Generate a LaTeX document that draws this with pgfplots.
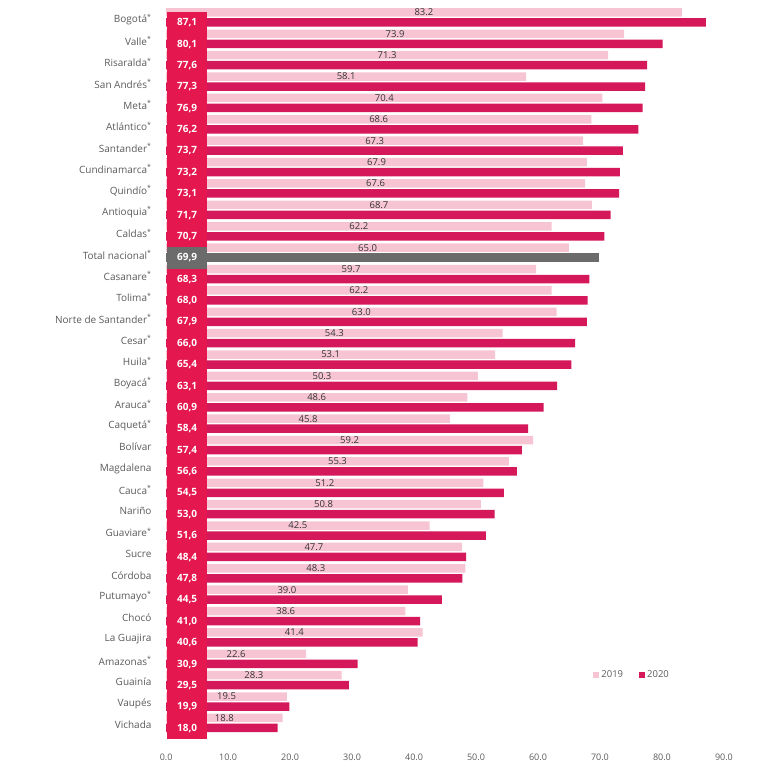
\documentclass[border=0pt]{standalone}
\usepackage{fontspec}
\setmainfont{Open Sans}
\usepackage{pgfplots}
\usepackage{pgfplotstable}
\pgfplotsset{compat=1.18}
\definecolor{c19}{HTML}{F7C4D4}
\definecolor{c20}{HTML}{D4185A}
\definecolor{tile}{HTML}{E5174F}
\definecolor{tot}{HTML}{6B6B6B}
\definecolor{lab}{HTML}{5A5A5A}
\pgfplotstableread{
y v19 v20
33 83.2 87.1
32 73.9 80.1
31 71.3 77.6
30 58.1 77.3
29 70.4 76.9
28 68.6 76.2
27 67.3 73.7
26 67.9 73.2
25 67.6 73.1
24 68.7 71.7
23 62.2 70.7
22 65.0 69.9
21 59.7 68.3
20 62.2 68.0
19 63.0 67.9
18 54.3 66.0
17 53.1 65.4
16 50.3 63.1
15 48.6 60.9
14 45.8 58.4
13 59.2 57.4
12 55.3 56.6
11 51.2 54.5
10 50.8 53.0
9 42.5 51.6
8 47.7 48.4
7 48.3 47.8
6 39.0 44.5
5 38.6 41.0
4 41.4 40.6
3 22.6 30.9
2 28.3 29.5
1 19.5 19.9
0 18.8 18.0
}\data
\begin{document}
\begin{tikzpicture}
\path[use as bounding box] (0,0) rectangle (766pt,-769pt);
\begin{axis}[
  scale only axis, width=608pt, height=739.7pt,
  at={(150pt,-742.2pt)}, anchor=south west,
  xmin=-2.6, xmax=95.5, ymin=-0.9, ymax=33.7,
  axis line style={draw=none}, tick style={draw=none},
  xtick={0,10,...,90},
  /pgf/number format/assume math mode=true,
  xticklabel={\pgfmathprintnumber[fixed,fixed zerofill,precision=1]{\tick}},
  xticklabel style={font=\fontsize{9}{10}\selectfont, text=lab, yshift=-8pt},
  ytick={0,...,33},
  yticklabels={Vichada,Vaupés,Guainía,Amazonas\textsuperscript{*},La Guajira,Chocó,Putumayo\textsuperscript{*},Córdoba,Sucre,Guaviare\textsuperscript{*},Nariño,Cauca\textsuperscript{*},Magdalena,Bolívar,Caquetá\textsuperscript{*},Arauca\textsuperscript{*},Boyacá\textsuperscript{*},Huila\textsuperscript{*},Cesar\textsuperscript{*},Norte de Santander\textsuperscript{*},Tolima\textsuperscript{*},Casanare\textsuperscript{*},Total nacional\textsuperscript{*},Caldas\textsuperscript{*},Antioquia\textsuperscript{*},Quindío\textsuperscript{*},Cundinamarca\textsuperscript{*},Santander\textsuperscript{*},Atlántico\textsuperscript{*},Meta\textsuperscript{*},San Andrés\textsuperscript{*},Risaralda\textsuperscript{*},Valle\textsuperscript{*},Bogotá\textsuperscript{*}},
  yticklabel style={font=\fontsize{10}{11}\selectfont, text=lab, xshift=5pt, yshift=-2pt},
  legend style={at={(rel axis cs:0.793,0.091)}, anchor=center, draw=none, fill=none,
    legend columns=2, font=\fontsize{9.5}{10}\selectfont, text=lab,
    /tikz/every even column/.append style={column sep=14pt}},
  clip=false,
]
\addplot[xbar, bar width=8.5pt, bar shift=5pt, fill=c19, draw=none,
  legend image code/.code={\fill[c19] (0pt,-3pt) rectangle (6pt,3pt);}]
  table[x=v19, y=y]{\data};
\addlegendentry{2019}
\addplot[xbar, bar width=8.5pt, bar shift=-5pt, fill=c20, draw=none,
  skip coords between index={11}{12},
  legend image code/.code={\fill[c20] (0pt,-3pt) rectangle (6pt,3pt);}]
  table[x=v20, y=y]{\data};
\addlegendentry{2020}
\addplot[forget plot, xbar, bar width=8.5pt, bar shift=-5pt, fill=tot, draw=none,
  skip coords between index={0}{11}, skip coords between index={12}{34}]
  table[x=v20, y=y]{\data};
% 2019 labels centred on the bars
\addplot[forget plot, draw=none, mark=none, point meta=explicit,
  nodes near coords={\pgfmathprintnumber[fixed,fixed zerofill,precision=1]{\pgfplotspointmeta}},
  nodes near coords style={anchor=center, yshift=5pt, inner sep=0pt, text=black!80,
    font=\fontsize{9.5}{11}\selectfont}]
  table[x expr=\thisrow{v19}/2, y=y, meta=v19]{\data};
% 2020 labels in the coloured column
\addplot[forget plot, draw=none, mark=none, point meta=explicit,
  skip coords between index={11}{12},
  nodes near coords={\pgfmathprintnumber[fixed,fixed zerofill,precision=1,use comma]{\pgfplotspointmeta}},
  nodes near coords style={anchor=center, yshift=-5.2pt, inner sep=0pt, fill=tile,
    minimum width=40pt, minimum height=21.6pt, text=white,
    font=\bfseries\fontsize{10}{10}\selectfont}]
  table[x expr=3.4, y=y, meta=v20]{\data};
\addplot[forget plot, draw=none, mark=none, point meta=explicit,
  skip coords between index={0}{11}, skip coords between index={12}{34},
  nodes near coords={\pgfmathprintnumber[fixed,fixed zerofill,precision=1,use comma]{\pgfplotspointmeta}},
  nodes near coords style={anchor=center, yshift=-5.2pt, inner sep=0pt, fill=tot,
    minimum width=40pt, minimum height=21.6pt, text=white,
    font=\bfseries\fontsize{10}{10}\selectfont}]
  table[x expr=3.4, y=y, meta=v20]{\data};
\end{axis}
\end{tikzpicture}
\end{document}
